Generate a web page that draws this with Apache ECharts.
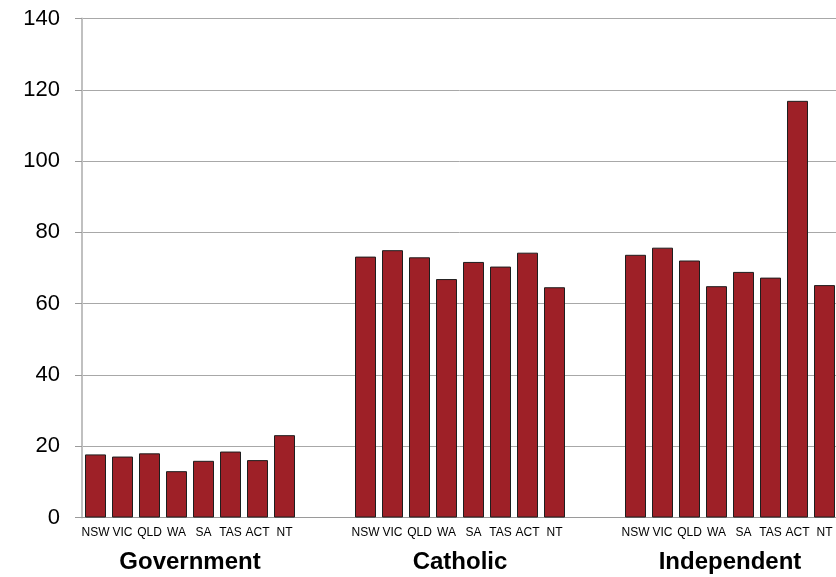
<!DOCTYPE html>
<html>
<head>
<meta charset="utf-8">
<script src="https://cdn.jsdelivr.net/npm/echarts@6/dist/echarts.min.js"></script>
<style>
  html, body { margin: 0; padding: 0; background: #fff; }
  #chart { width: 836px; height: 577px; }
</style>
</head>
<body>
<div id="chart"></div>
<script>
// School sectors and states, values per state within each sector
const states = ['NSW', 'VIC', 'QLD', 'WA', 'SA', 'TAS', 'ACT', 'NT'];
const sectors = ['Government', 'Catholic', 'Independent'];
const government = [17.7, 17.1, 18.0, 13.0, 15.9, 18.5, 16.1, 23.1];
const catholic = [73.2, 75.0, 73.0, 66.9, 71.7, 70.4, 74.3, 64.6];
const independent = [73.7, 75.7, 72.1, 64.9, 68.9, 67.3, 116.9, 65.2];
const yTicks = [0, 20, 40, 60, 80, 100, 120, 140];

// Two empty slots separate each sector on the category axis
const gapSlots = 2;
const sectorValues = [government, catholic, independent];
const categories = [];
const values = [];
const sectorCentres = {};
sectorValues.forEach((vals, s) => {
  if (s > 0) {
    for (let g = 0; g < gapSlots; g++) { categories.push(''); values.push('-'); }
  }
  const start = categories.length;
  states.forEach((st, i) => { categories.push(st); values.push(vals[i]); });
  sectorCentres[start + states.length / 2] = sectors[s];
});

const chart = echarts.init(document.getElementById('chart'), null, { renderer: 'canvas' });
chart.setOption({
  animation: false,
  backgroundColor: '#ffffff',
  // plot runs slightly past the right edge of the canvas
  grid: {
    left: 82, top: 18.5, width: 756, height: 499,
    containLabel: false,
    outerBoundsMode: 'none'
  },
  xAxis: [
    {
      type: 'category',
      data: categories,
      axisLine: { show: true, lineStyle: { color: '#9a9a9a', width: 1 } },
      axisTick: { show: false },
      axisLabel: {
        interval: 0,
        margin: 9,
        color: '#000',
        fontFamily: 'Liberation Sans, Arial, sans-serif',
        fontSize: 12
      }
    },
    {
      type: 'value',
      position: 'bottom',
      min: 0,
      max: categories.length,
      interval: 2,
      axisLine: { show: false },
      axisTick: { show: false },
      splitLine: { show: false },
      axisLabel: {
        margin: 33,
        color: '#000',
        fontFamily: 'Liberation Sans, Arial, sans-serif',
        fontSize: 24,
        fontWeight: 'bold',
        showMinLabel: true,
        showMaxLabel: true,
        formatter: v => sectorCentres[v] || ''
      }
    }
  ],
  yAxis: {
    type: 'value',
    min: yTicks[0],
    max: yTicks[yTicks.length - 1],
    interval: yTicks[1] - yTicks[0],
    axisLine: { show: true, lineStyle: { color: '#c0c0c0', width: 2 } },
    axisTick: { show: true, inside: false, length: 7, lineStyle: { color: '#9a9a9a' } },
    splitLine: { show: true, lineStyle: { color: '#a8a8a8', width: 1 } },
    axisLabel: {
      margin: 22,
      color: '#000',
      fontFamily: 'Liberation Sans, Arial, sans-serif',
      fontSize: 22
    }
  },
  series: [
    {
      type: 'bar',
      xAxisIndex: 0,
      data: values,
      barWidth: 21,
      itemStyle: {
        color: '#9e2027',
        borderColor: '#1e1e1e',
        borderWidth: 1
      }
    }
  ]
});
</script>
</body>
</html>
